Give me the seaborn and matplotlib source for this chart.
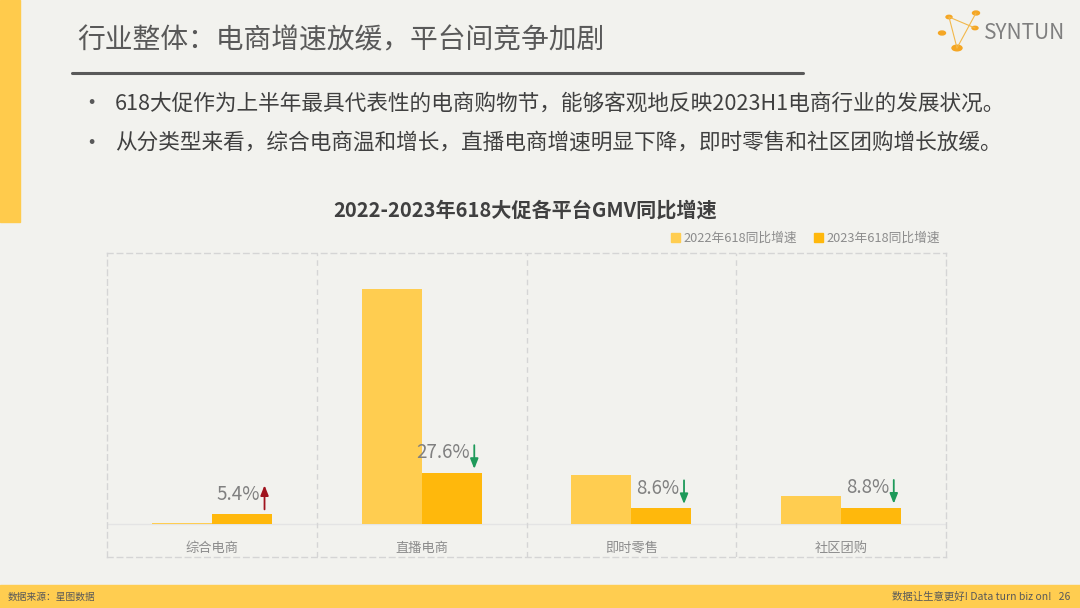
import pandas as pd
import matplotlib.pyplot as plt
import seaborn as sns
from matplotlib.patches import Rectangle, Patch, Circle
from matplotlib.lines import Line2D

# 数据
categories = ['综合电商', '直播电商', '即时零售', '社区团购']
series = ['2022年618同比增速', '2023年618同比增速']
growth_2022 = [0.6, 127.0, 26.5, 15.2]
growth_2023 = [5.4, 27.6, 8.6, 8.8]
labels_2023 = ['5.4%', '27.6%', '8.6%', '8.8%']
trend_up = [True, False, False, False]

df = pd.DataFrame({
    '类型': categories * 2,
    '年份': [series[0]] * 4 + [series[1]] * 4,
    '增速': growth_2022 + growth_2023,
})

sns.set_theme(style='white')
plt.rcParams['font.family'] = ['Noto Sans CJK SC', 'DejaVu Sans']

BG = '#F2F2EE'
YEL = '#FFCB4C'
W, H = 1080, 608


def fx(px):
    return px / W


def fy(py):
    return 1 - py / H


fig = plt.figure(figsize=(10.8, 6.08), dpi=100, facecolor=BG)

# 页面装饰
fig.patches.append(Rectangle((0, fy(222)), fx(20), 222 / H, transform=fig.transFigure,
                             color=YEL, zorder=0))
fig.patches.append(Rectangle((0, 0), 1, 23 / H, transform=fig.transFigure,
                             color='#FFCD50', zorder=0))
fig.text(fx(77), fy(40), '行业整体：电商增速放缓，平台间竞争加剧', fontsize=20,
         color='#595959', va='center', ha='left')
fig.add_artist(Line2D([fx(72), fx(803)], [fy(73), fy(73)], color='#595959', lw=2.2,
                      transform=fig.transFigure))
bullets = ['618大促作为上半年最具代表性的电商购物节，能够客观地反映2023H1电商行业的发展状况。',
           '从分类型来看，综合电商温和增长，直播电商增速明显下降，即时零售和社区团购增长放缓。']
for i, b in enumerate(bullets):
    y = fy(104 + 39 * i)
    fig.text(fx(91), y, '•', fontsize=16, color='#595959', va='center', ha='center')
    fig.text(fx(115), y, b, fontsize=15.6, color='#404040', va='center', ha='left')

fig.text(fx(525), fy(210), '2022-2023年618大促各平台GMV同比增速', fontsize=14.5,
         fontweight='bold', color='#404040', va='center', ha='center')

# logo
nodes = [(942, 33), (949, 17), (976, 13), (975, 28), (957, 48)]
for a, b in [(1, 4), (4, 2), (1, 3)]:
    fig.add_artist(Line2D([fx(nodes[a][0]), fx(nodes[b][0])], [fy(nodes[a][1]), fy(nodes[b][1])],
                          color='#F2B84B', lw=0.8, transform=fig.transFigure))
for (x, y), r in zip(nodes, [3.5, 3, 3.5, 3, 5]):
    fig.add_artist(Circle((fx(x), fy(y)), r / W, transform=fig.transFigure,
                          color='#F5A623'))
fig.text(fx(984), fy(33), 'SYNTUN', fontsize=15, color='#7F7F7F', va='center', ha='left')

fig.text(fx(8), fy(597), '数据来源：星图数据', fontsize=7, color='#595959', va='center')
fig.text(fx(1070), fy(597), '数据让生意更好! Data turn biz on!   26', fontsize=7.5,
         color='#595959', va='center', ha='right')

# 图表
ax = fig.add_axes([fx(107), fy(557), fx(946) - fx(107), (557 - 253) / H])
ax.set_facecolor(BG)
palette = {series[0]: '#FFCD50', series[1]: '#FFB80C'}
sns.barplot(data=df, x='类型', y='增速', hue='年份', palette=palette, width=0.572,
            gap=0, saturation=1, linewidth=0, edgecolor='none', ax=ax, legend=False)

scale = 1.85
ax.set_ylim(-(557 - 524) / scale, (524 - 253) / scale)
ax.set_xlim(-0.5, 3.5)
ax.set_xticks([])
ax.set_yticks([])
ax.set_xlabel('')
ax.set_ylabel('')
for s in ax.spines.values():
    s.set_linestyle((0, (4, 3)))
    s.set_color('#D5D5D5')
    s.set_linewidth(1)
for xv in [0.5, 1.5, 2.5]:
    ax.axvline(xv, color='#D5D5D5', lw=1, ls=(0, (4, 3)))
ax.axhline(0, color='#E4E4E4', lw=1, zorder=0)

for i, c in enumerate(categories):
    ax.text(i, -13, c, fontsize=9.5, color='#8C8C8C', ha='center', va='center')

for bar, lab, up in zip(ax.containers[1], labels_2023, trend_up):
    right = bar.get_x() + bar.get_width()
    top = bar.get_height()
    ax.text(right - 0.058, top + 10.8, lab, fontsize=13.5, color='#808080',
            ha='right', va='center')
    ax_x = right - 0.035
    if up:
        ax.annotate('', xy=(ax_x, top + 15.5), xytext=(ax_x, top + 2.5),
                    arrowprops=dict(arrowstyle='-|>,head_length=0.5,head_width=0.2',
                                    color='#A0141E', lw=1.3, shrinkA=0, shrinkB=0))
    else:
        ax.annotate('', xy=(ax_x, top + 2.2), xytext=(ax_x, top + 15),
                    arrowprops=dict(arrowstyle='-|>,head_length=0.5,head_width=0.2',
                                    color='#1E9A5A', lw=1.3, shrinkA=0, shrinkB=0))

handles = [Patch(color=palette[s]) for s in series]
fig.legend(handles, series, loc='center right', bbox_to_anchor=(fx(952), fy(238)),
           ncol=2, frameon=False, fontsize=9.2, handlelength=0.7, handleheight=0.7,
           handletextpad=0.3, columnspacing=1.3, labelcolor='#8C8C8C')

fig.savefig('out.png', dpi=100, facecolor=BG)
